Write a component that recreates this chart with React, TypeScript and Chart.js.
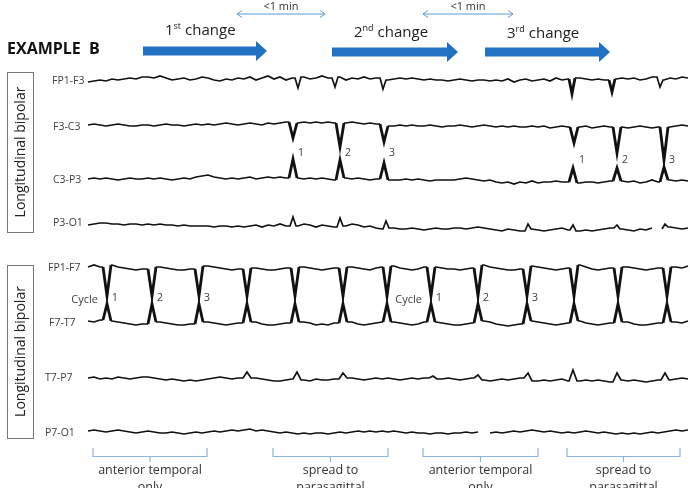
import React, { useEffect, useRef } from "react";
import { Chart, registerables } from "chart.js";

Chart.register(...registerables);

// ---------- DATA ----------
const channelNames = ["FP1-F3", "F3-C3", "C3-P3", "P3-O1", "FP1-F7", "F7-T7", "T7-P7", "P7-O1"];
// vertical position (row) of every channel on the page scale
const channelRows = [80, 125, 179, 225, 268, 322, 379, 432];

// sampled background activity (time axis: first sample at 88, one sample every 6 units)
const sampleStart = 88;
const sampleStep = 6;

const bgFP1F3 = [-2, -1, 0, -1, 1, 0, 1, 2, 1, 3, 3, 2, 4, 2, 0, 1, 2, 0, 1, 3, 2, 0, -1, 1, 0, 2, 1, 3, 0, 2, 4, 1, 3, 0, 2, 1, 3, 1, 2, 4, 2, 1, 3, 0, 2, 1, 3, 1, 2, 1, 0, 1, 2, 1, 2, 1, 0, 1, 0, 0, -1, 0, 1, 0, -1, 0, 0, -1, 0, -1, 1, -2, 0, 1, -1, 0, 1, -1, 2, 0, 1, 0, 2, 1, 0, 1, 0, -1, 1, 2, 1, 2, 0, 1, 3, 1, 0, 2, 1, 3, 2];
const bgF3C3 = [0, 1, 0, -1, 0, 1, 0, -1, -1, 0, 0, -1, 0, 1, 0, 0, -1, 0, 1, 0, 1, 0, 1, 2, 1, 0, 1, 2, 1, 0, 2, 1, 2, 3, 1, 2, 3, 2, 3, 2, 3, 2, 3, 2, 3, 2, 1, 2, 1, 0, 0, -1, 0, -1, 0, -1, -1, 0, -1, -2, -1, -1, 0, -1, -2, -1, 0, -1, -2, -1, -2, -1, -2, -2, -1, -2, -1, -3, -2, -1, -2, -1, -2, -1, -3, -2, -1, -2, -1, -2, -3, -2, -1, -2, -3, -2, -1, -2, -1, 0, -1];
const bgC3P3 = [0, 1, 0, 1, 0, -1, 0, 1, 0, 0, 1, 0, 1, 0, -1, 0, 1, 0, 2, 3, 4, 2, 1, 0, 1, 0, 1, 2, 0, 1, 2, 1, 2, 1, 2, 1, 0, 1, 0, 1, 0, -1, 0, 1, 0, 1, 0, -1, 0, -1, 0, -1, -1, 0, -1, 0, -1, -2, -1, -1, -1, -1, 0, 1, 0, -1, -2, -1, -3, -4, -3, -5, -3, -4, -2, -4, -3, -3, -2, -3, -3, -2, -4, -3, -3, -4, -3, -2, -3, -2, -3, -2, -4, -3, -1, -3, -2, -1, -2, -1, -2];
const bgP3O1 = [0, 1, 2, 2, 1, 1, 0, 1, 1, 0, 1, 0, 1, 0, 0, -1, 0, -1, -1, -1, -1, -2, -1, -1, -2, -1, -2, -1, 0, -2, 0, -1, 1, -1, 0, -1, 1, 0, -2, 0, -1, -2, 0, -1, 1, 0, -2, -1, -3, -4, -4, -3, -4, -4, -3, -4, -5, -4, -3, -4, -4, -3, -3, -4, -3, -2, -3, -4, -5, -6, -4, -5, -6, -5, -4, -5, -6, -5, -4, -3, -5, -4, -6, -5, -6, -5, -4, -3, -5, -4, -5, -6, -4, -5, -3, -4, -3, -2, -3, -4, -3];
const bgFP1F7 = [1, 3, 1, 0, 3, 1, 0, -1, -2, -1, 1, 2, 1, 0, -1, -2, -2, -1, 2, 3, 2, 1, 0, -1, -2, -1, 1, 2, 0, -1, -2, -2, -1, 0, 1, 3, 1, 0, -1, -2, -1, 0, 2, 2, 1, 0, -1, -2, 0, 1, 3, 2, 0, -1, -2, -1, 1, 2, 1, 0, -1, -1, -2, -1, 0, 2, 3, 1, 0, -1, -2, -2, -1, 1, 2, 1, 0, -1, -2, -1, 0, 1, 3, 1, -1, -2, -1, 0, 1, 2, 1, 0, -1, -2, -1, 0, 2, 3, 1, 0, 2];
const bgF7T7 = [1, 0, 2, 0, 1, 0, -1, -2, -3, -2, 0, 1, 0, -1, -2, -3, -3, -2, 0, 2, 0, -1, -2, -3, -2, -1, 1, 1, 0, -2, -3, -3, -2, -1, 0, 1, 0, -1, -3, -2, -3, -1, 1, 1, 0, -2, -3, -2, -1, 0, 1, 0, -1, -2, -3, -2, 0, 1, 0, -1, -2, -3, -3, -2, -1, 1, 1, 0, -2, -3, -4, -3, -2, 0, 1, 0, -1, -2, -3, -2, -1, 0, 1, -1, -2, -3, -2, -1, 0, 1, 0, -2, -3, -3, -2, -1, 1, 1, 0, -1, 1];
const bgT7P7 = [1, 2, 0, 1, 0, 2, 1, 0, 1, 2, 2, 1, 0, -1, 0, -1, -2, -1, -2, -1, 0, 1, 2, 1, 0, 1, 2, 0, 1, 0, -1, -2, -2, -1, 0, -1, -1, -2, 0, -1, -1, 0, -1, 0, 1, 0, -1, 0, 1, 0, 1, 0, -1, 0, 1, 0, 1, 0, -1, 0, 1, 0, -1, 0, 1, 0, -1, -2, -1, 0, -1, 0, 1, 0, -1, -2, -1, -2, -1, 0, -2, -3, -2, -1, -2, -1, -2, -3, -2, -1, -2, -1, -2, -3, -2, -1, 0, -1, 0, 1, 0];
const bgP7O1 = [1, 2, 1, 0, 1, 2, 1, 0, -1, 0, 1, 0, -1, -1, 0, -1, -2, -1, 0, -1, 0, 1, 0, 1, 2, 1, 2, 3, 1, 2, 1, 0, -1, 0, -1, -2, -1, -2, -1, -1, -2, -1, 0, -1, 0, 1, 0, 1, 0, 1, 0, 1, 0, -1, 0, -1, -1, -2, -1, -1, -2, -1, -1, 0, -1, 0, -1, -1, 0, -1, 0, 1, 0, 1, 2, 1, 0, 1, 0, -1, 0, -1, 0, 1, 0, -1, 0, -1, -2, -1, -2, -1, -2, -1, 0, -1, 0, 1, 2, 1, 2];

// discharges: [time, amplitude] (amplitude positive = upward deflection)
const spikesFP1F3: [number, number][] = [[298, -8], [335, -7], [383, -9], [572, -14], [612, -12], [660, -7]];
const spikesF3C3: [number, number][] = [[293, -13], [340, -22], [384, -17], [574, -18], [617, -28], [664, -35]];
const spikesC3P3: [number, number][] = [[293, 20], [340, 19], [384, 16], [573, 11], [617, 11], [664, 12]];
const spikesP3O1: [number, number][] = [[293, 8], [340, 7], [386, 4], [528, 1], [573, 0], [617, 0], [665, 1]];
const cycleTimes = [107, 152, 199, 247, 295, 343, 387, 431, 478, 527, 574, 618, 667];
const cycleAmpFP1F7 = -28;
const cycleAmpF7T7 = 18;
const spikesT7P7: [number, number][] = [[247, 7], [297, 7], [343, 6], [433, 3], [478, 4], [528, 6], [573, 9], [617, 6], [665, 6]];

// recording gaps: [from, to]
const gapsP3O1: [number, number][] = [[653, 660]];
const gapsP7O1: [number, number][] = [[481, 486]];

// numbered discharges (indices into spike lists)
const topNumberedGroups = [[0, 1, 2], [3, 4, 5]];
const cycleNumberedGroups = [[0, 1, 2], [7, 8, 9]];
const numberLabels = ["1", "2", "3"];

// annotation texts
const changeLabels = [["1", "st"], ["2", "nd"], ["3", "rd"]];
const changeStarts = [143, 332, 485];
const changeEnds = [267, 458, 610];
const intervalStarts = [237, 423];
const intervalEnds = [325, 513];
const intervalLabel = "<1 min";
const bracketStarts = [93, 273, 423, 567];
const bracketEnds = [207, 388, 538, 680];
const bracketLabels = [["anterior temporal", "only"], ["spread to", "parasagittal"], ["anterior temporal", "only"], ["spread to", "parasagittal"]];

// ---------- BUILD ----------
type P = { x: number; y: number | null; peak?: boolean };

function buildTrace(row: number, bg: number[], spikes: [number, number][], hw: number, gaps: [number, number][]): P[] {
  let pts: P[] = bg.map((v, i) => ({ x: sampleStart + i * sampleStep, y: row - v }));
  for (const [t, a] of spikes) {
    const before = pts.filter((p) => p.x < t - hw);
    const after = pts.filter((p) => p.x > t + hw);
    const pv = before.length ? (before[before.length - 1].y as number) : row;
    const nv = after.length ? (after[0].y as number) : row;
    pts = [...before, { x: t - hw, y: pv }, { x: t, y: row - a, peak: Math.abs(a) > 9 }, { x: t + hw, y: nv }, ...after];
  }
  for (const [g0, g1] of gaps) {
    pts = [...pts.filter((p) => p.x <= g0), { x: (g0 + g1) / 2, y: null }, ...pts.filter((p) => p.x >= g1)];
  }
  return pts;
}

const traces: P[][] = [
  buildTrace(channelRows[0], bgFP1F3, spikesFP1F3, 3, []),
  buildTrace(channelRows[1], bgF3C3, spikesF3C3, 4, []),
  buildTrace(channelRows[2], bgC3P3, spikesC3P3, 4, []),
  buildTrace(channelRows[3], bgP3O1, spikesP3O1, 3, gapsP3O1),
  buildTrace(channelRows[4], bgFP1F7, cycleTimes.map((t) => [t, cycleAmpFP1F7] as [number, number]), 4, []),
  buildTrace(channelRows[5], bgF7T7, cycleTimes.map((t) => [t, cycleAmpF7T7] as [number, number]), 4, []),
  buildTrace(channelRows[6], bgT7P7, spikesT7P7, 4, []),
  buildTrace(channelRows[7], bgP7O1, [], 3, gapsP7O1),
];

const FONT = '"Open Sans", "Liberation Sans", sans-serif';
const TXT = "#404040";

const overlayPlugin = {
  id: "eegOverlay",
  afterDatasetsDraw(chart: any) {
    const ctx: CanvasRenderingContext2D = chart.ctx;
    const sx = (v: number) => chart.scales.x.getPixelForValue(v);
    const sy = (v: number) => chart.scales.y.getPixelForValue(v);
    ctx.save();

    // title
    ctx.fillStyle = "#111";
    ctx.font = `bold 16px ${FONT}`;
    ctx.textBaseline = "middle";
    ctx.textAlign = "left";
    ctx.fillText("EXAMPLE  B", 7, 49);

    // block arrows + change labels
    const arrowCy = [51, 52, 52];
    const labelBase = [35, 37, 38];
    changeStarts.forEach((x0, i) => {
      const a = sx(x0), b = sx(changeEnds[i]);
      const cy = arrowCy[i];
      const headLen = 11;
      ctx.fillStyle = "#2272C3";
      ctx.beginPath();
      ctx.moveTo(a, cy - 4.5);
      ctx.lineTo(b - headLen, cy - 4.5);
      ctx.lineTo(b - headLen, cy - 10);
      ctx.lineTo(b, cy);
      ctx.lineTo(b - headLen, cy + 10);
      ctx.lineTo(b - headLen, cy + 4.5);
      ctx.lineTo(a, cy + 4.5);
      ctx.closePath();
      ctx.fill();

      const [num, sup] = changeLabels[i];
      const lx = a + 22;
      ctx.fillStyle = "#222";
      ctx.textBaseline = "alphabetic";
      ctx.textAlign = "left";
      ctx.font = `15px ${FONT}`;
      ctx.fillText(num, lx, labelBase[i]);
      let w = ctx.measureText(num).width;
      ctx.font = `9px ${FONT}`;
      ctx.fillText(sup, lx + w, labelBase[i] - 6);
      w += ctx.measureText(sup).width + 4;
      ctx.font = `15px ${FONT}`;
      ctx.fillText("change", lx + w, labelBase[i]);
    });

    // <1 min double arrows
    intervalStarts.forEach((x0, i) => {
      const a = sx(x0), b = sx(intervalEnds[i]);
      const y = 14;
      ctx.strokeStyle = "#5B9BD5";
      ctx.lineWidth = 1;
      ctx.beginPath();
      ctx.moveTo(a, y); ctx.lineTo(b, y);
      ctx.moveTo(a + 5, y - 3.5); ctx.lineTo(a, y); ctx.lineTo(a + 5, y + 3.5);
      ctx.moveTo(b - 5, y - 3.5); ctx.lineTo(b, y); ctx.lineTo(b - 5, y + 3.5);
      ctx.stroke();
      ctx.fillStyle = "#333";
      ctx.font = `11px ${FONT}`;
      ctx.textAlign = "center";
      ctx.textBaseline = "middle";
      ctx.fillText(intervalLabel, (a + b) / 2, 7);
    });

    // montage boxes
    const boxes = [[7, 72, 26, 160], [7, 265, 26, 173]];
    boxes.forEach(([bx, by, bw, bh]) => {
      ctx.strokeStyle = "#777";
      ctx.lineWidth = 1;
      ctx.strokeRect(bx + 0.5, by + 0.5, bw, bh);
      ctx.save();
      ctx.translate(bx + bw / 2 + 0.5, by + bh / 2);
      ctx.rotate(-Math.PI / 2);
      ctx.fillStyle = "#222";
      ctx.font = `14px ${FONT}`;
      ctx.textAlign = "center";
      ctx.textBaseline = "middle";
      ctx.fillText("Longitudinal bipolar", 0, 1);
      ctx.restore();
    });

    // channel labels
    const labelX = [52, 53, 53, 53, 48, 49, 45, 45];
    const labelDy = [1, 2, 1, -2, 0, 1, -1, 1];
    ctx.fillStyle = TXT;
    ctx.font = `10.5px ${FONT}`;
    ctx.textAlign = "left";
    ctx.textBaseline = "middle";
    channelNames.forEach((n, i) => ctx.fillText(n, labelX[i], sy(channelRows[i]) + labelDy[i]));

    // discharge numbers (top montage)
    ctx.font = `10.5px ${FONT}`;
    ctx.textAlign = "center";
    const numY = [153, 160];
    topNumberedGroups.forEach((g, gi) => {
      g.forEach((si, k) => {
        ctx.fillText(numberLabels[k], sx(spikesF3C3[si][0]) + 8, numY[gi]);
      });
    });

    // cycle labels (bottom montage)
    cycleNumberedGroups.forEach((g) => {
      ctx.font = `11px ${FONT}`;
      ctx.textAlign = "right";
      ctx.fillText("Cycle", sx(cycleTimes[g[0]]) - 9, 300);
      ctx.textAlign = "center";
      g.forEach((ci, k) => ctx.fillText(numberLabels[k], sx(cycleTimes[ci]) + 8, 298));
    });

    // brackets
    bracketStarts.forEach((x0, i) => {
      const a = sx(x0), b = sx(bracketEnds[i]);
      const c = (a + b) / 2;
      ctx.strokeStyle = "#8EB4E3";
      ctx.lineWidth = 1.2;
      ctx.beginPath();
      ctx.moveTo(a, 448); ctx.lineTo(a, 456.5); ctx.lineTo(b, 456.5); ctx.lineTo(b, 448);
      ctx.moveTo(c, 456.5); ctx.lineTo(c, 462);
      ctx.stroke();
      ctx.fillStyle = "#333";
      ctx.font = `12.5px ${FONT}`;
      ctx.textAlign = "center";
      ctx.textBaseline = "middle";
      ctx.fillText(bracketLabels[i][0], c, 470);
      ctx.fillText(bracketLabels[i][1], c, 487);
    });

    ctx.restore();
  },
};

export default function App() {
  const ref = useRef<HTMLCanvasElement | null>(null);
  useEffect(() => {
    if (!ref.current) return;
    const chart = new Chart(ref.current, {
      type: "line",
      data: {
        datasets: traces.map((t, i) => ({
          label: channelNames[i],
          data: t as any,
          borderColor: "#111",
          borderWidth: 1.7,
          borderJoinStyle: "miter" as const,
          pointRadius: 0,
          tension: 0,
          fill: false,
          spanGaps: false,
          segment: {
            borderWidth: (c: any) => {
              const d = t;
              const a = d[c.p0DataIndex];
              const b = d[c.p1DataIndex];
              return (a && a.peak) || (b && b.peak) ? 2.8 : undefined;
            },
          },
        })),
      },
      options: {
        responsive: false,
        animation: false,
        events: [],
        layout: { padding: 0 },
        plugins: { legend: { display: false }, tooltip: { enabled: false } },
        scales: {
          x: { type: "linear", min: 0, max: 690, display: false },
          y: { type: "linear", min: 0, max: 488, reverse: true, display: false },
        },
      },
      plugins: [overlayPlugin],
    });
    return () => chart.destroy();
  }, []);
  return (
    <div style={{ position: "absolute", left: 0, top: 0, width: 690, height: 488, background: "#fff" }}>
      <canvas ref={ref} width={690} height={488} style={{ display: "block" }} />
    </div>
  );
}
